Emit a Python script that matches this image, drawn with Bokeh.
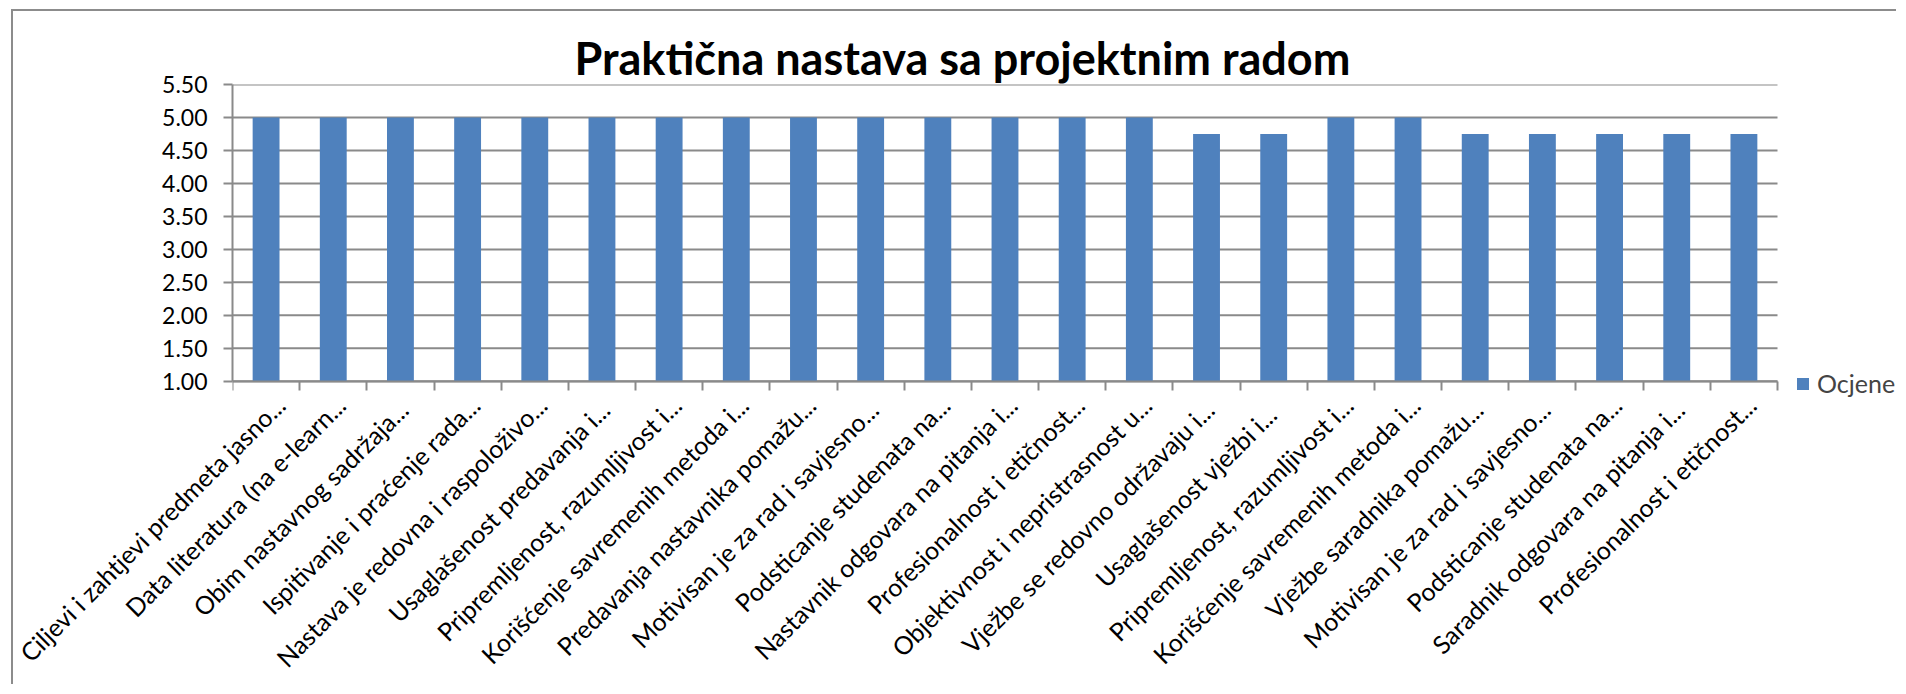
import math
from bokeh.plotting import figure
from bokeh.models import (FixedTicker, NumeralTickFormatter, Legend, LegendItem,
                          ColumnDataSource, Range1d, LinearAxis, Grid)
from bokeh.embed import file_html
from bokeh.resources import INLINE

title_text = "Praktična nastava sa projektnim radom"
series_name = "Ocjene"
categories = [
    "Ciljevi i zahtjevi predmeta jasno...",
    "Data literatura (na e-learn...",
    "Obim nastavnog  sadržaja...",
    "Ispitivanje i praćenje rada...",
    "Nastava je redovna i raspoloživo...",
    "Usaglašenost  predavanja i...",
    "Pripremljenost, razumljivost i...",
    "Korišćenje savremenih metoda i...",
    "Predavanja nastavnika pomažu...",
    "Motivisan  je za rad i savjesno...",
    "Podsticanje studenata na...",
    "Nastavnik odgovara na pitanja i...",
    "Profesionalnost i etičnost...",
    "Objektivnost i nepristrasnost u...",
    "Vježbe se redovno održavaju  i...",
    "Usaglašenost  vježbi  i...",
    "Pripremljenost, razumljivost i...",
    "Korišćenje savremenih metoda i...",
    "Vježbe saradnika  pomažu...",
    "Motivisan  je za rad i savjesno...",
    "Podsticanje studenata na...",
    "Saradnik  odgovara na pitanja i...",
    "Profesionalnost i etičnost...",
]
values = [5.00, 5.00, 5.00, 5.00, 5.00, 5.00, 5.00, 5.00, 5.00, 5.00, 5.00,
          5.00, 5.00, 5.00, 4.75, 4.75, 5.00, 5.00, 4.75, 4.75, 4.75, 4.75, 4.75]
y_ticks = [1.00, 1.50, 2.00, 2.50, 3.00, 3.50, 4.00, 4.50, 5.00, 5.50]

n = len(categories)
positions = [i + 1 for i in range(n)]
LABEL_SHIFT = 0.11
label_ticks = [p_ + LABEL_SHIFT for p_ in positions]
boundaries = [i + 0.5 for i in range(n + 1)]
x_lo, x_hi = boundaries[0], boundaries[-1]
y_lo, y_hi = y_ticks[0], y_ticks[-1]

GRID = "#8a8a8a"
BAR = "#4F81BD"
FONT = "Lato"

# layout (pixels)
W, H = 1885, 675
LEFT, TOP = 219, 73
PLOT_W, PLOT_H = 1545, 309        # width of category area / height of value area
EXTRA_BOTTOM = 20                 # room below the value axis for the legend
RIGHT = 0
frame_w = W - LEFT - RIGHT
x_end = x_lo + frame_w * (x_hi - x_lo) / PLOT_W
y_start = y_lo - EXTRA_BOTTOM * (y_hi - y_lo) / PLOT_H
BOTTOM = H - TOP - PLOT_H - EXTRA_BOTTOM

p = figure(width=W, height=H,
           x_range=Range1d(x_lo, x_end), y_range=Range1d(y_start, y_hi),
           output_backend="svg", toolbar_location=None, x_axis_location=None,
           min_border_left=LEFT, min_border_right=RIGHT,
           min_border_top=TOP, min_border_bottom=BOTTOM)
p.styles = {"margin-left": "11px", "margin-top": "9px",
            "border-left": "2px solid #8c8c8c", "border-top": "2px solid #8c8c8c"}

p.title.text = title_text
p.title.text_font = FONT
p.title.text_font_style = "bold"
p.title.text_font_size = "45px"
p.title.align = "left"
p.title.offset = 342
p.title.standoff = 0
p.title.text_color = "black"

p.outline_line_color = None
p.background_fill_color = "white"
p.border_fill_color = "white"
for obj in p.center:
    if isinstance(obj, Grid):
        obj.visible = False

# horizontal grid lines, limited to the category area
p.segment(x0=[x_lo] * len(y_ticks), x1=[x_hi] * len(y_ticks), y0=y_ticks, y1=y_ticks,
          line_color=GRID, line_width=2)

src = ColumnDataSource(dict(x=positions, top=values))
r = p.vbar(x="x", top="top", bottom=y_lo, width=0.4, source=src,
           fill_color=BAR, line_color=None)

# y axis
p.yaxis.bounds = (y_lo, y_hi)
p.yaxis.ticker = FixedTicker(ticks=y_ticks, minor_ticks=[])
p.yaxis.formatter = NumeralTickFormatter(format="0.00")
p.yaxis.major_label_text_font = FONT
p.yaxis.major_label_text_font_size = "23px"
p.yaxis.major_label_text_color = "black"
p.yaxis.axis_line_color = GRID
p.yaxis.axis_line_width = 2
p.yaxis.major_tick_line_color = GRID
p.yaxis.major_tick_line_width = 2
p.yaxis.major_tick_in = 0
p.yaxis.major_tick_out = 9
p.yaxis.minor_tick_line_color = None
p.yaxis.major_label_standoff = 16

# x axis: category labels (at the bottom of the frame)
label_axis = LinearAxis(
    ticker=FixedTicker(ticks=label_ticks, minor_ticks=[]),
    major_label_overrides={t: c for t, c in zip(label_ticks, categories)},
    major_label_orientation=math.pi / 4,
    major_label_text_font=FONT, major_label_text_font_size="25px",
    major_label_text_color="black",
    axis_line_color=None, major_tick_line_color=None, minor_tick_line_color=None,
    major_tick_in=0, major_tick_out=0, minor_tick_in=0, minor_tick_out=0,
    major_label_standoff=0,
)
p.add_layout(label_axis, "below")

# x axis: line and category boundary ticks at the value axis origin
line_axis = LinearAxis(
    fixed_location=y_lo, bounds=(x_lo, x_hi),
    ticker=FixedTicker(ticks=[], minor_ticks=boundaries),
    major_label_text_font_size="0px",
    axis_line_color=GRID, axis_line_width=2,
    major_tick_line_color=None,
    minor_tick_line_color=GRID, minor_tick_line_width=2,
    minor_tick_in=0, minor_tick_out=9,
)
p.add_layout(line_axis, "below")

legend = Legend(items=[LegendItem(label=series_name, renderers=[r])],
                location=(PLOT_W + 18, 2), orientation="vertical",
                glyph_width=15, glyph_height=15, label_standoff=7,
                label_text_font=FONT, label_text_font_size="25px",
                padding=0, margin=0, spacing=0,
                border_line_color=None, background_fill_alpha=0)
p.add_layout(legend, "center")

open("out.html", "w").write(file_html(p, INLINE))
